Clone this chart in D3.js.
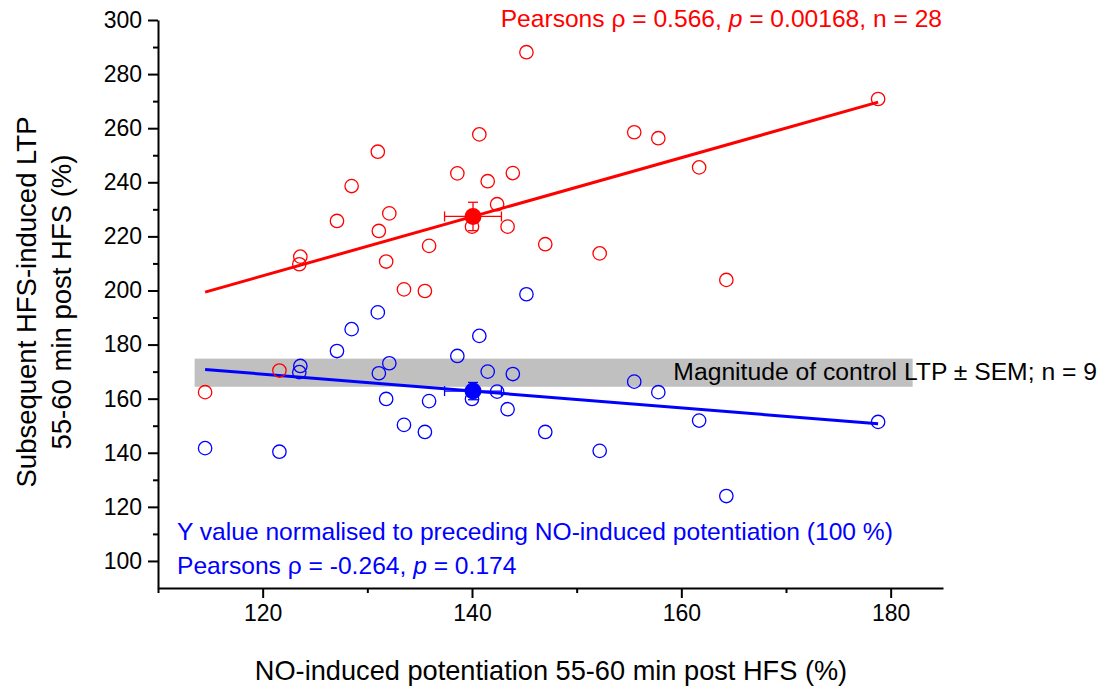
<!DOCTYPE html>
<html>
<head>
<meta charset="utf-8">
<script src="https://cdn.jsdelivr.net/npm/d3@7"></script>
<style>
  body { margin: 0; background: #fff; }
  text { font-family: "Liberation Sans", Arial, sans-serif; }
</style>
</head>
<body>
<svg id="chart" width="1108" height="688"></svg>
<script>
// NO-induced potentiation (x) for each of the 28 slices
const noPotentiation = [114.5, 121.6, 123.6, 123.5, 127.1, 128.5, 131.0, 131.1, 131.8, 132.1,
  133.5, 135.5, 135.9, 138.6, 140.0, 140.7, 141.5, 142.4, 143.4, 143.9,
  145.2, 147.0, 152.2, 155.5, 157.8, 161.7, 164.3, 178.8];
// subsequent HFS-induced LTP, raw (red)
const ltpRaw = [162.4, 170.4, 212.5, 209.7, 225.7, 238.6, 251.3, 222.0, 210.7, 228.5,
  200.4, 199.8, 216.5, 243.3, 223.6, 257.7, 240.4, 231.9, 223.6, 243.4,
  288.1, 217.1, 213.7, 258.5, 256.3, 245.5, 203.9, 270.8];
// same LTP normalised to preceding NO potentiation (blue)
const ltpNormalised = [141.7, 140.4, 172.1, 169.8, 177.6, 185.7, 191.9, 169.4, 159.9, 173.1,
  150.3, 147.7, 159.1, 175.8, 159.9, 183.2, 170.0, 162.6, 156.1, 169.1,
  198.6, 147.7, 140.7, 166.3, 162.4, 151.9, 124.0, 151.4];

// control LTP band (mean, sem) and its x extent
const controlLtp = [169.6, 5.2];
const bandExtent = [113.5, 182.1];

const xMajorTicks = [120, 140, 160, 180];
const xMinorTicks = [110, 130, 150, 170];
const yMajorTicks = [100, 120, 140, 160, 180, 200, 220, 240, 260, 280, 300];
const yMinorTicks = [110, 130, 150, 170, 190, 210, 230, 250, 270, 290];

const RED = '#ff0000', BLUE = '#0000ff';
const FONT = '"Liberation Sans", Arial, sans-serif';

const svg = d3.select('#chart');
const x = d3.scaleLinear().domain([110, 185]).range([158, 943]);
const y = d3.scaleLinear().domain([90, 300]).range([588, 20]);

// control band
svg.append('rect')
  .attr('x', x(bandExtent[0]))
  .attr('width', x(bandExtent[1]) - x(bandExtent[0]))
  .attr('y', y(controlLtp[0] + controlLtp[1]))
  .attr('height', y(controlLtp[0] - controlLtp[1]) - y(controlLtp[0] + controlLtp[1]))
  .attr('fill', '#c0c0c0');

svg.append('text')
  .attr('x', 1097).attr('y', 380)
  .attr('text-anchor', 'end')
  .attr('font-size', 24.7)
  .attr('fill', '#000')
  .text('Magnitude of control LTP \u00B1 SEM; n = 9');

// axes
const xAxis = svg.append('g').attr('transform', `translate(0,${y(90)})`);
xAxis.call(d3.axisBottom(x).tickValues(xMajorTicks).tickSize(10).tickSizeOuter(0).tickPadding(7));
const xMinor = svg.append('g').attr('transform', `translate(0,${y(90)})`);
xMinor.call(d3.axisBottom(x).tickValues(xMinorTicks).tickSize(5).tickSizeOuter(0).tickFormat(''));
xMinor.select('.domain').remove();

const yAxis = svg.append('g').attr('transform', `translate(${x(110)},0)`);
yAxis.call(d3.axisLeft(y).tickValues(yMajorTicks).tickSize(10).tickSizeOuter(0).tickPadding(6));
const yMinor = svg.append('g').attr('transform', `translate(${x(110)},0)`);
yMinor.call(d3.axisLeft(y).tickValues(yMinorTicks).tickSize(5).tickSizeOuter(0).tickFormat(''));
yMinor.select('.domain').remove();

svg.selectAll('.domain, .tick line').attr('stroke', '#000').attr('stroke-width', 2);
svg.selectAll('.tick text').attr('font-size', 23).attr('font-family', FONT).attr('fill', '#000');

// axis titles
svg.append('text')
  .attr('x', 551).attr('y', 680)
  .attr('text-anchor', 'middle')
  .attr('font-size', 27.2)
  .text('NO-induced potentiation 55-60 min post HFS (%)');

const yTitle = svg.append('text')
  .attr('transform', 'translate(0,302) rotate(-90)')
  .attr('text-anchor', 'middle')
  .attr('font-size', 27.5);
yTitle.append('tspan').attr('x', 0).attr('y', 36).text('Subsequent HFS-induced LTP');
yTitle.append('tspan').attr('x', 0).attr('y', 71).text('55-60 min post HFS (%)');

function drawSeries(values, color) {
  const pts = noPotentiation.map((d, i) => [d, values[i]]);

  // least-squares fit across the x range
  const mx = d3.mean(noPotentiation), my = d3.mean(values);
  const slope = d3.sum(pts, p => (p[0] - mx) * (p[1] - my)) / d3.sum(pts, p => (p[0] - mx) ** 2);
  const xr = d3.extent(noPotentiation);
  const fit = xr.map(v => [v, my + slope * (v - mx)]);

  svg.append('path')
    .datum(fit)
    .attr('d', d3.line().x(d => x(d[0])).y(d => y(d[1])))
    .attr('stroke', color).attr('stroke-width', 3).attr('fill', 'none');

  svg.append('g').selectAll('circle')
    .data(pts)
    .join('circle')
    .attr('cx', d => x(d[0])).attr('cy', d => y(d[1]))
    .attr('r', 6.7)
    .attr('fill', 'none').attr('stroke', color).attr('stroke-width', 1.3);

  // mean +/- sem
  const n = values.length;
  const semX = d3.deviation(noPotentiation) / Math.sqrt(n);
  const semY = d3.deviation(values) / Math.sqrt(n);
  const g = svg.append('g').attr('stroke', color).attr('stroke-width', 1.3);
  const cx = x(mx), cy = y(my);
  g.append('line').attr('x1', x(mx - semX)).attr('x2', x(mx + semX)).attr('y1', cy).attr('y2', cy);
  g.append('line').attr('x1', x(mx - semX)).attr('x2', x(mx - semX)).attr('y1', cy - 5).attr('y2', cy + 5);
  g.append('line').attr('x1', x(mx + semX)).attr('x2', x(mx + semX)).attr('y1', cy - 5).attr('y2', cy + 5);
  g.append('line').attr('x1', cx).attr('x2', cx).attr('y1', y(my - semY)).attr('y2', y(my + semY));
  g.append('line').attr('x1', cx - 5).attr('x2', cx + 5).attr('y1', y(my + semY)).attr('y2', y(my + semY));
  g.append('line').attr('x1', cx - 5).attr('x2', cx + 5).attr('y1', y(my - semY)).attr('y2', y(my - semY));
  svg.append('circle').attr('cx', cx).attr('cy', cy).attr('r', 8.5).attr('fill', color);
}

drawSeries(ltpNormalised, BLUE);
drawSeries(ltpRaw, RED);

// statistics annotations
const redStat = svg.append('text')
  .attr('x', 942).attr('y', 27)
  .attr('text-anchor', 'end')
  .attr('font-size', 24.6).attr('fill', RED);
redStat.append('tspan').text('Pearsons \u03C1 = 0.566, ');
redStat.append('tspan').attr('font-style', 'italic').text('p');
redStat.append('tspan').text(' = 0.00168, n = 28');

svg.append('text')
  .attr('x', 177).attr('y', 540)
  .attr('font-size', 24.6).attr('fill', BLUE)
  .text('Y value normalised to preceding NO-induced potentiation (100 %)');

const blueStat = svg.append('text')
  .attr('x', 177).attr('y', 574)
  .attr('font-size', 24.6).attr('fill', BLUE);
blueStat.append('tspan').text('Pearsons \u03C1 = -0.264, ');
blueStat.append('tspan').attr('font-style', 'italic').text('p');
blueStat.append('tspan').text(' = 0.174');
</script>
</body>
</html>
